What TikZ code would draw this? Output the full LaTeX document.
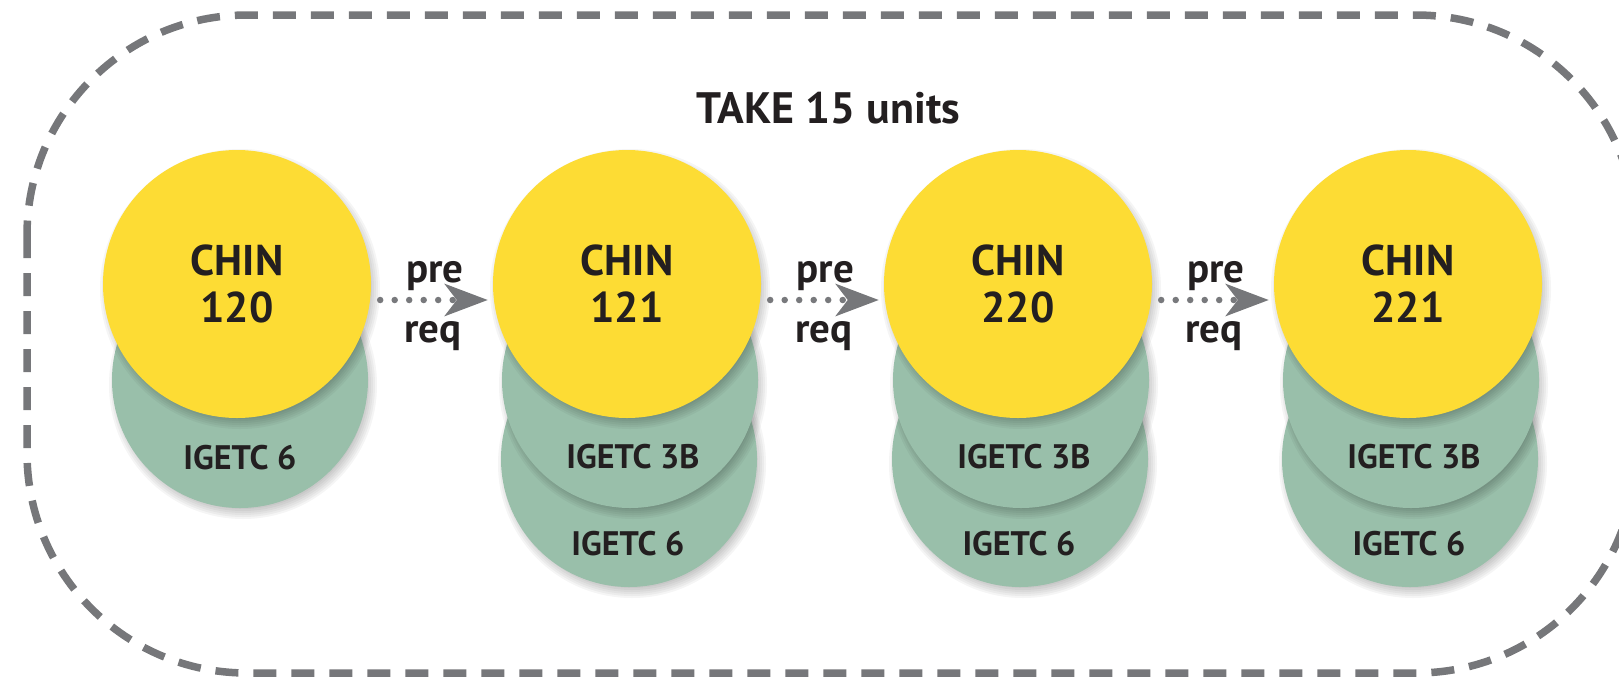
\documentclass[tikz,border=0pt]{standalone}
\usepackage{fontspec}
\setmainfont{PT Sans}
\usetikzlibrary{arrows.meta}
\definecolor{cyellow}{RGB}{253,220,52}
\definecolor{cgreen}{RGB}{153,191,170}
\definecolor{cgray}{RGB}{118,119,122}
\definecolor{cdot}{RGB}{120,121,124}
\definecolor{ctext}{RGB}{35,31,32}
\newcommand\circshadow[3]{%
  \foreach \k in {0,...,6}{\fill[black,opacity=0.04] (#1+3,#2+5) circle[radius=#3-6+2*\k];}}
\begin{document}
\begin{tikzpicture}[x=1pt,y=-1pt,
  yel/.style={circle, fill=cyellow, minimum size=268pt, inner sep=0pt},
  grn/.style={circle, fill=cgreen, minimum size=256pt, inner sep=0pt},
  course/.style={font=\bfseries\fontsize{43}{47}\selectfont, text=ctext, align=center},
  ige/.style={font=\bfseries\fontsize{34}{40}\selectfont, text=ctext, inner sep=0pt},
  prereq/.style={font=\bfseries\fontsize{41}{48}\selectfont, text=ctext, inner sep=0pt},
  link/.style={cdot, line width=6.5pt, line cap=round, dash pattern=on 0pt off 14.5pt,
    -{Stealth[length=43pt,width=32pt,inset=12pt,color=cgray]}},
  frame/.style={cgray, line width=7.5pt, dash pattern=on 23pt off 15pt, rounded corners=220pt}
]
\useasboundingbox (0,0) rectangle (1619,678);
\begin{scope}
\clip (0,0) rectangle (1619,678);
\draw[frame] (27,15) rectangle (1636,673);
\end{scope}

\node[font=\bfseries\fontsize{44}{50}\selectfont, text=ctext, inner sep=0pt] (title) at (828,108.5) {TAKE 15 units};

% column 1
\circshadow{240}{380}{128}
\node[grn] (ga1) at (240,380) {};
\node[ige] (ta1) at (240,457.5) {IGETC 6};
\circshadow{237}{284}{134}
\node[yel,course] (c1) at (237,284) {CHIN\\120};

% columns 2-4
\foreach \i/\x/\n in {2/627/121, 3/1018/220, 4/1408/221} {
  \circshadow{\x+2}{459}{128}
  \node[grn] (gb\i) at (\x+2,459) {};
  \node[ige] (tb\i) at (\x+1,543.5) {IGETC 6};
  \circshadow{\x+3}{380}{128}
  \node[grn] (ga\i) at (\x+3,380) {};
  \node[ige] (ta\i) at (\x+6,456.5) {IGETC 3B};
  \circshadow{\x}{284}{134}
  \node[yel,course] (c\i) at (\x,284) {CHIN\\\n};
}

% prerequisite links
\foreach \a/\b in {1/2, 2/3, 3/4} {
  \draw[link] ([xshift=9pt,yshift=-16pt]c\a.east) -- ([xshift=-5pt,yshift=-16pt]c\b.west);
  \path (c\a.east) -- (c\b.west) coordinate[pos=0.5] (m\a);
  \node[prereq, anchor=base] (pre\a) at ([xshift=3pt,yshift=2pt]m\a) {pre};
  \node[prereq, anchor=base] (req\a) at ([xshift=1pt,yshift=-58pt]m\a) {req};
}
\end{tikzpicture}
\end{document}
